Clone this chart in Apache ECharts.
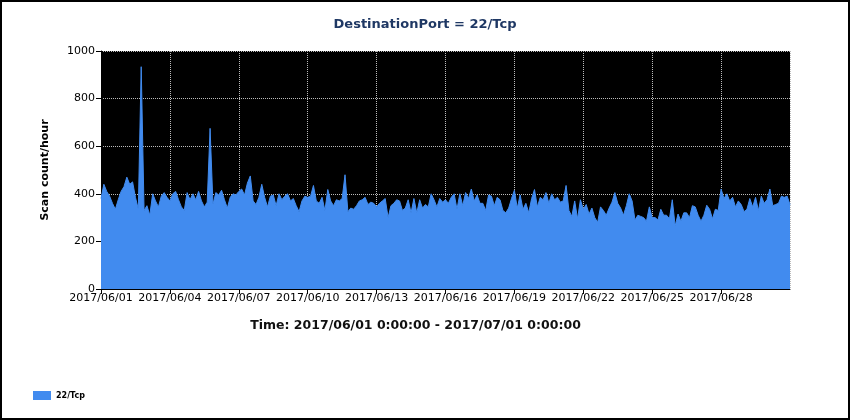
<!DOCTYPE html>
<html>
<head>
<meta charset="utf-8">
<script src="https://cdn.jsdelivr.net/npm/echarts@6/dist/echarts.min.js"></script>
<style>
  body { margin: 0; background: #fff; }
  #chart { width: 850px; height: 420px; }
</style>
</head>
<body>
<div id="chart"></div>
<script>
var myChart = echarts.init(document.getElementById('chart'));

// one reading every 3 hours, 2017/06/01 0:00 -> 2017/07/01 0:00
var stepHours = 3;
var scanCounts = [
    380, 440, 410, 390, 360, 335, 375, 410, 430, 470, 440, 450, 385, 335, 934, 330, 350, 310, 400, 370,
    345, 390, 405, 385, 370, 400, 410, 375, 345, 330, 405, 375, 400, 375, 410,
    370, 345, 365, 675, 355, 405, 395, 415, 375, 340, 385, 400, 395, 410, 420, 395, 445, 475, 370, 355,
    385, 440, 385, 345, 390, 395, 350, 400, 375, 390, 400, 370, 380, 350, 325,
    370, 390, 385, 390, 435, 370, 360, 385, 330, 418, 370, 350, 375, 370, 380, 480, 325, 340, 335, 350,
    370, 375, 385, 355, 365, 360, 345, 360, 370, 380, 300, 350, 360, 375,
    370, 330, 340, 375, 320, 380, 320, 375, 340, 355, 345, 400, 375, 345, 380, 365, 375, 360, 385, 400,
    335, 400, 350, 405, 380, 420, 370, 395, 360, 360, 330, 395, 390, 350, 385,
    375, 330, 320, 340, 380, 415, 340, 395, 335, 360, 320, 380, 418, 345, 385, 375, 405, 360, 400, 375,
    385, 365, 370, 435, 330, 305, 370, 295, 375, 335, 355, 315, 340, 300,
    280, 345, 330, 310, 340, 365, 405, 360, 340, 310, 350, 400, 370, 290, 310, 305, 300, 285, 345, 300,
    300, 290, 335, 310, 310, 295, 375, 265, 315, 285, 320, 320, 300, 350, 345,
    310, 285, 310, 352, 335, 295, 335, 330, 420, 380, 400, 370, 385, 345, 370, 355, 325, 335, 380, 345,
    385, 330, 390, 360, 375, 420, 350, 355, 360, 390, 385, 390, 355
];
var tickLabels = ['2017/06/01', '2017/06/04', '2017/06/07', '2017/06/10', '2017/06/13',
    '2017/06/16', '2017/06/19', '2017/06/22', '2017/06/25', '2017/06/28'];
var tickHours = 72;
var seriesName = '22/Tcp';

var points = scanCounts.map(function (v, i) {
    return [i * stepHours, v];
});

var font = 'DejaVu Sans';

var option = {
    backgroundColor: '#fff',
    animation: false,
    title: {
        text: 'DestinationPort = 22/Tcp',
        left: 'center',
        top: 13,
        textStyle: {
            color: '#1f3864',
            fontFamily: font,
            fontSize: 13,
            fontWeight: 'bold'
        }
    },
    legend: {
        left: 28,
        top: 386,
        itemWidth: 18,
        itemHeight: 9,
        itemGap: 4,
        icon: 'rect',
        textStyle: {
            color: '#000',
            fontFamily: font,
            fontSize: 8,
            fontWeight: 'bold'
        },
        data: [seriesName]
    },
    grid: {
        left: 101,
        right: 60,
        top: 51,
        bottom: 131,
        show: true,
        backgroundColor: '#000',
        borderWidth: 0
    },
    xAxis: {
        type: 'value',
        min: 0,
        max: 720,
        interval: tickHours,
        name: 'Time: 2017/06/01 0:00:00 - 2017/07/01 0:00:00',
        nameLocation: 'middle',
        nameGap: 30,
        nameTextStyle: {
            color: '#111',
            fontFamily: font,
            fontSize: 12.5,
            fontWeight: 'bold',
            padding: [0, 60, 0, 0]
        },
        axisLine: { lineStyle: { color: '#000', width: 1 } },
        axisTick: { show: true, length: 5, lineStyle: { color: '#000' } },
        axisLabel: {
            color: '#000',
            fontFamily: font,
            fontSize: 11,
            margin: 4,
            showMaxLabel: false,
            formatter: function (h) {
                return tickLabels[Math.round(h / tickHours)] || '';
            }
        },
        splitLine: {
            show: true,
            lineStyle: { color: '#bbb', type: 'dotted', width: 1 }
        }
    },
    yAxis: {
        type: 'value',
        min: 0,
        max: 1000,
        interval: 200,
        name: 'Scan count/hour',
        nameLocation: 'middle',
        nameGap: 50,
        nameTextStyle: {
            color: '#000',
            fontFamily: font,
            fontSize: 11,
            fontWeight: 'bold'
        },
        axisLine: { show: true, lineStyle: { color: '#000', width: 1 } },
        axisTick: { show: true, length: 5, lineStyle: { color: '#000' } },
        axisLabel: {
            color: '#000',
            fontFamily: font,
            fontSize: 11,
            margin: 6,
            formatter: function (v) { return String(v); }
        },
        splitLine: {
            show: true,
            lineStyle: { color: '#bbb', type: 'dotted', width: 1 }
        }
    },
    graphic: [{
        type: 'rect',
        shape: { x: 1, y: 1, width: 848, height: 418 },
        style: { fill: 'none', stroke: '#000', lineWidth: 2 },
        z: 100
    }],
    series: [{
        name: seriesName,
        type: 'line',
        data: points,
        showSymbol: false,
        symbol: 'none',
        sampling: false,
        color: '#418bef',
        lineStyle: { color: '#418bef', width: 1 },
        areaStyle: { color: '#418bef', opacity: 1 }
    }]
};

myChart.setOption(option);
</script>
</body>
</html>
